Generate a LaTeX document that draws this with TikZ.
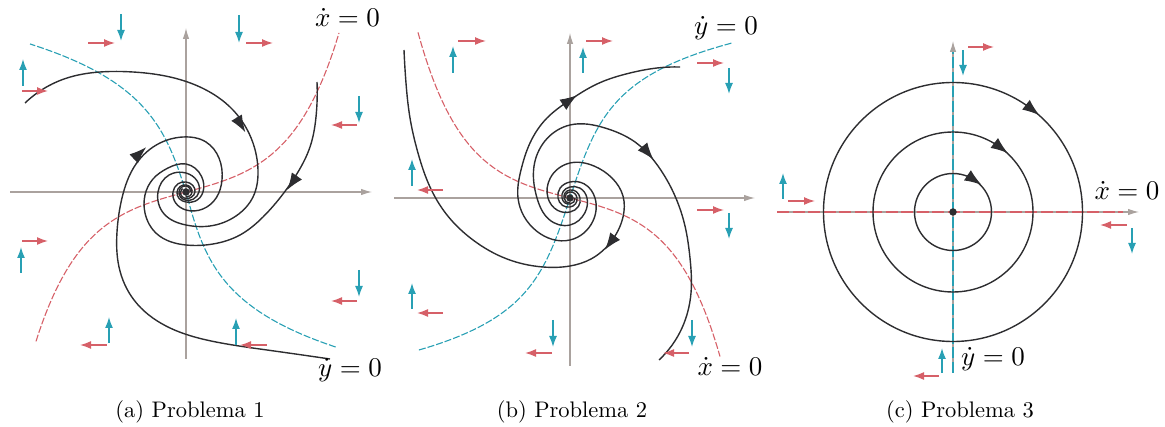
\documentclass[tikz,border=0pt]{standalone}
\usetikzlibrary{arrows.meta,hobby}
\definecolor{rd}{RGB}{214,96,104}
\definecolor{cy}{RGB}{40,160,180}
\definecolor{ax}{RGB}{170,162,158}
\definecolor{tr}{RGB}{45,45,48}
\newcommand\trtip[3]{\draw[bigtip] (#1,#2) ++({#3+180}:8.5) -- ++(#3:17);}
\begin{document}
\begin{tikzpicture}[x=1pt,y=-1pt,
 axis/.style={draw=ax, line width=1.1pt, -{Latex[length=11pt,width=6.5pt]}},
 rnull/.style={draw=rd, line width=1.1pt, dash pattern=on 7pt off 2pt},
 cnull/.style={draw=cy, line width=1.1pt, dash pattern=on 7pt off 2pt},
 rnullb/.style={draw=rd, line width=1.1pt, dash pattern=on 12pt off 3.5pt},
 cnullb/.style={draw=cy, line width=1.1pt, dash pattern=on 11pt off 3.5pt},
 traj/.style={draw=tr, line width=1.4pt, use Hobby shortcut},
 bigtip/.style={draw=tr, line width=1.4pt, -{Latex[length=17pt,width=12.5pt]}},
 redarr/.style={draw=rd, line width=1.5pt, -{Latex[length=11pt,width=8pt]}},
 cyanarr/.style={draw=cy, line width=1.5pt, -{Latex[length=11pt,width=8pt]}},
 lbl/.style={scale=2.7, anchor=base, inner sep=0pt},
 captxt/.style={scale=2.25, anchor=base, inner sep=0pt},
 eq/.style={fill=tr, circle, inner sep=0pt, minimum size=7.5pt}]
\useasboundingbox (0,0) rectangle (1165,427);

% ---------------- Panel 1 ----------------
\begin{scope}[shift={(186,192)}, yscale=-1]
\draw[axis] (-176,0) -- (186,0);
\draw[axis] (0,-167) -- (0,164);
\draw[rnull] plot[domain=-150:153, samples=90, smooth] (\x, {12.83*sinh(0.021*\x)});
\draw[cnull] plot[domain=-155:148, samples=90, smooth] ({-((\x>0) ? 16.2 : 13.5)*sinh(0.02*\x)}, \x);
\draw[traj] (-161,89) .. (-119,114) .. (-86,120) .. (-53,120) .. (-26,117) .. (14,105) .. (47,82) .. (67,49) .. (72,22) .. (67,-5) .. (50,-24) .. (24,-34) .. (-90:33) .. (-135:31) .. (-180:28) .. (-225:24) .. (-270:19) .. (-315:15.7) .. (-360:13) .. (-405:10.2) .. (-450:8.2) .. (-495:7.5) .. (-540:7) .. (-585:6.5) .. (-630:6) .. (-675:5.3) .. (-720:4.6);
\draw[traj] (131,110) .. (130,75) .. (124,45) .. (112,20) .. (97,-2) .. (77,-25) .. (54,-43) .. (27,-52) .. (0,-53) .. (-29,-42) .. (-41,-21) .. (-41,-3) .. (-33,13) .. (-18,24) .. (0,28) .. (-315:22) .. (-360:17) .. (-405:13) .. (-450:10) .. (-495:9.5) .. (-540:9) .. (-585:8) .. (-630:7) .. (-675:6.5) .. (-720:6) .. (-765:5.5) .. (-810:5);
\draw[traj] (144,-167) .. (81,-158) .. (30,-150) .. (-20,-134) .. (-52,-108) .. (-67,-75) .. (-69,-40) .. (-64,-6) .. (-50,28) .. (-26,49) .. (-3,55) .. (20,50) .. (33,34) .. (36,12) .. (-370:31) .. (-405:24) .. (-450:18) .. (-495:15) .. (-540:13) .. (-585:11.5) .. (-630:10) .. (-675:9.5) .. (-720:9) .. (-765:7.5) .. (-810:6.5) .. (-855:6) .. (-900:5.5) .. (-945:5);
\trtip{55}{67}{-59}
\trtip{106}{9}{-125}
\trtip{-46}{39}{43}
\node[eq] (e1) at (0,0) {};
\end{scope}

% ---------------- Panel 2 ----------------
\begin{scope}[shift={(570,198)}, yscale=-1]
\draw[axis] (-176,0) -- (185,0);
\draw[axis] (0,-168) -- (0,165);
\draw[rnull] plot[domain=-152:150, samples=90, smooth] (\x, {-11.7*sinh(0.022*\x)});
\draw[cnull] plot[domain=-152:155, samples=90, smooth] ({0.2356*\x+3.27*sinh(0.028*\x)}, \x);
\draw[traj] (630:5) .. (585:5.5) .. (540:6) .. (495:7) .. (450:8) .. (405:9) .. (360:10) .. (315:12) .. (270:14) .. (225:17.5) .. (180:22) .. (135:28) .. (0,35) .. (24,32) .. (42,20) .. (53,2) .. (53,-19) .. (40,-45) .. (21,-61) .. (0,-68) .. (-27,-69) .. (-63,-61) .. (-97,-42) .. (-123,-17) .. (-140,11) .. (-152,45) .. (-160,80) .. (-164,115) .. (-166,148);
\draw[traj] (900:5) .. (855:5.5) .. (810:6) .. (765:6.5) .. (720:7) .. (675:8) .. (630:9) .. (585:10.5) .. (540:12) .. (495:14) .. (450:16) .. (405:20) .. (360:25) .. (315:32.5) .. (270:42) .. (225:47) .. (180:52) .. (-49,28) .. (-40,55) .. (-23,80) .. (0,98) .. (27,114) .. (60,125) .. (87,130) .. (110,131);
\draw[traj] (720:5) .. (675:5.5) .. (630:6) .. (585:7) .. (540:8) .. (495:9.5) .. (450:11) .. (405:14) .. (360:17) .. (315:21) .. (270:27) .. (225:30) .. (180:33) .. (135:50) .. (0,73) .. (35,70) .. (65,56) .. (88,32) .. (105,2) .. (115,-28) .. (120,-60) .. (121,-95) .. (112,-130) .. (89,-162);
\trtip{40}{-45}{-127}
\trtip{0}{98}{34}
\trtip{78}{45}{-50}
\node[eq] (e2) at (0,0) {};
\end{scope}

% ---------------- Panel 3 ----------------
\begin{scope}[shift={(953,212)}, yscale=-1]
\draw[axis] (-176,0) -- (186,0);
\draw[axis] (0,-161) -- (0,171);
\draw[rnullb] (-176,0) -- (170,0);
\draw[cnullb] (0,-161) -- (0,160);
\draw[draw=tr, line width=1.4pt] (0,0) circle[radius=129.5];
\draw[draw=tr, line width=1.4pt] (0,0) circle[radius=80];
\draw[draw=tr, line width=1.4pt] (0,0) circle[radius=38.5];
\trtip{79.7}{102}{-38}
\trtip{48.1}{63.9}{-37}
\trtip{21.5}{31.9}{-34}
\node[eq] (e3) at (0,0) {};
\end{scope}

% direction arrows panel 1
\draw[cyanarr] (121,14) -- (121,41);
\draw[redarr] (88,43) -- (115,43);
\draw[cyanarr] (23,86) -- (23,59);
\draw[redarr] (22,91) -- (48,91);
\draw[cyanarr] (239,15) -- (239,43);
\draw[redarr] (246,43) -- (273,43);
\draw[cyanarr] (359,96) -- (359,123);
\draw[redarr] (357,125) -- (331,125);
\draw[cyanarr] (21,273) -- (21,247);
\draw[redarr] (22,241) -- (48,241);
\draw[cyanarr] (359,270) -- (359,297);
\draw[redarr] (357,301) -- (331,301);
\draw[cyanarr] (109,343) -- (109,317);
\draw[redarr] (107,345) -- (80,345);
\draw[cyanarr] (236,345) -- (236,318);
\draw[redarr] (267,345) -- (240,345);
% direction arrows panel 2
\draw[cyanarr] (453,73) -- (453,46);
\draw[redarr] (458,41) -- (486,41);
\draw[cyanarr] (583,73) -- (583,47);
\draw[redarr] (586,41) -- (613,41);
\draw[redarr] (697,63) -- (724,63);
\draw[cyanarr] (729,68) -- (729,94);
\draw[cyanarr] (412,186) -- (412,159);
\draw[redarr] (443,190) -- (417,190);
\draw[redarr] (697,210) -- (724,210);
\draw[cyanarr] (729,213) -- (729,239);
\draw[cyanarr] (412,309) -- (412,283);
\draw[redarr] (443,313) -- (417,313);
\draw[cyanarr] (553,320) -- (553,347);
\draw[redarr] (552,353) -- (525,353);
\draw[cyanarr] (692,320) -- (692,347);
\draw[redarr] (689,353) -- (663,353);
% direction arrows panel 3
\draw[redarr] (968,47) -- (994,47);
\draw[cyanarr] (963,50) -- (963,76);
\draw[cyanarr] (783,199) -- (783,173);
\draw[redarr] (788,201) -- (815,201);
\draw[redarr] (1127,225) -- (1100,225);
\draw[cyanarr] (1132,228) -- (1132,254);
\draw[cyanarr] (942,373) -- (942,348);
\draw[redarr] (939,376) -- (913,376);

% labels
\node[lbl] (l1) at (347.5,27) {$\dot{x}=0$};
\node[lbl] (l2) at (350,377) {$\dot{y}=0$};
\node[lbl] (l3) at (726,35) {$\dot{y}=0$};
\node[lbl] (l4) at (730,376) {$\dot{x}=0$};
\node[lbl] (l5) at (1127,200) {$\dot{x}=0$};
\node[lbl] (l6) at (993,366) {$\dot{y}=0$};
\node[captxt] (c1) at (190,418) {(a) Problema 1};
\node[captxt] (c2) at (572,418) {(b) Problema 2};
\node[captxt] (c3) at (960,418) {(c) Problema 3};
\end{tikzpicture}
\end{document}
